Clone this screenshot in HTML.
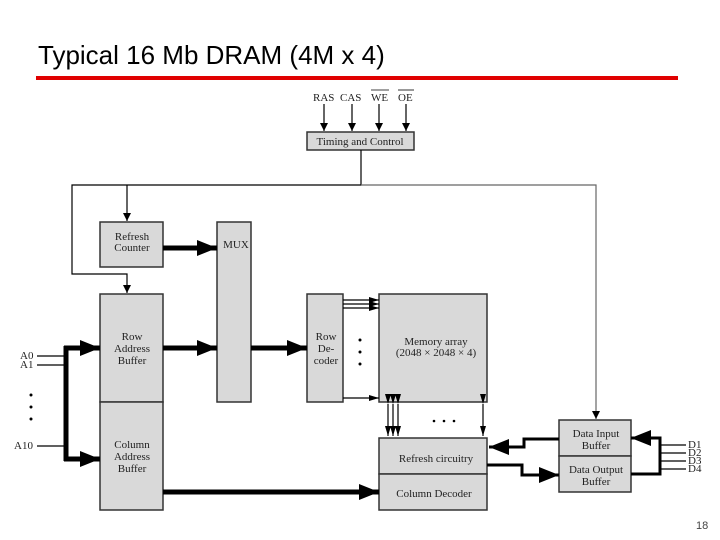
<!DOCTYPE html>
<html><head><style>
body{margin:0;background:#fff;width:720px;height:540px;overflow:hidden;position:relative;font-family:"Liberation Sans",sans-serif}
.t{position:absolute;left:38px;top:40px;font-size:26px;color:#000}
.r{position:absolute;left:36px;top:76px;width:642px;height:4px;background:#e00000}
.p{position:absolute;left:696px;top:520px;font-size:11px;color:#444}
svg text{font-family:"Liberation Serif",serif;font-size:11px;fill:#222}
</style></head><body>
<div class="t">Typical 16 Mb DRAM (4M x 4)</div>
<div class="r"></div>
<div class="p">18</div>
<svg width="720" height="540" style="position:absolute;left:0;top:0">
<defs>
<marker id="a" markerWidth="8" markerHeight="8" refX="8" refY="4" orient="auto" markerUnits="userSpaceOnUse"><path d="M0,0L8,4L0,8z" fill="#000"/></marker>
<marker id="b" markerWidth="10" markerHeight="6" refX="10" refY="3" orient="auto" markerUnits="userSpaceOnUse"><path d="M0,0L10,3L0,6z" fill="#000"/></marker>
<marker id="big" markerWidth="20" markerHeight="16" refX="20" refY="8" orient="auto" markerUnits="userSpaceOnUse"><path d="M0,0L20,8L0,16z" fill="#000"/></marker>
</defs>
<g fill="#d9d9d9" stroke="#333" stroke-width="1.5">
<rect x="307" y="132" width="107" height="18"/>
<rect x="100" y="222" width="63" height="45"/>
<rect x="217" y="222" width="34" height="180"/>
<rect x="100" y="294" width="63" height="108"/>
<rect x="100" y="402" width="63" height="108"/>
<rect x="307" y="294" width="36" height="108"/>
<rect x="379" y="294" width="108" height="108"/>
<rect x="379" y="438" width="108" height="36"/>
<rect x="379" y="474" width="108" height="36"/>
<rect x="559" y="420" width="72" height="36"/>
<rect x="559" y="456" width="72" height="36"/>
</g>
<g stroke="#000" stroke-width="1.2" fill="none">
<line x1="324" y1="104" x2="324" y2="131" marker-end="url(#a)"/>
<line x1="352" y1="104" x2="352" y2="131" marker-end="url(#a)"/>
<line x1="379" y1="104" x2="379" y2="131" marker-end="url(#a)"/>
<line x1="406" y1="104" x2="406" y2="131" marker-end="url(#a)"/>
<polyline points="361,150 361,185 72,185 72,274 127,274 127,293" marker-end="url(#a)"/>
<line x1="127" y1="185" x2="127" y2="221" marker-end="url(#a)"/>
<polyline points="361,185 596,185 596,419" stroke="#666" marker-end="url(#a)"/>
<line x1="37" y1="356" x2="64" y2="356"/>
<line x1="37" y1="365" x2="64" y2="365"/>
<line x1="37" y1="446" x2="64" y2="446"/>
<line x1="343" y1="300" x2="379" y2="300" marker-end="url(#b)"/>
<line x1="343" y1="304" x2="379" y2="304" marker-end="url(#b)"/>
<line x1="343" y1="308" x2="379" y2="308" marker-end="url(#b)"/>
<line x1="343" y1="398" x2="379" y2="398" marker-end="url(#b)"/>
<line x1="388" y1="404" x2="388" y2="436" marker-start="url(#b)" marker-end="url(#b)"/>
<line x1="393" y1="404" x2="393" y2="436" marker-start="url(#b)" marker-end="url(#b)"/>
<line x1="398" y1="404" x2="398" y2="436" marker-start="url(#b)" marker-end="url(#b)"/>
<line x1="483" y1="404" x2="483" y2="436" marker-start="url(#b)" marker-end="url(#b)"/>
<line x1="660" y1="445" x2="686" y2="445"/>
<line x1="660" y1="453" x2="686" y2="453"/>
<line x1="660" y1="461" x2="686" y2="461"/>
<line x1="660" y1="469" x2="686" y2="469"/>
</g>
<g stroke="#000" stroke-width="5" fill="none">
<line x1="163" y1="248" x2="217" y2="248" marker-end="url(#big)"/>
<line x1="163" y1="348" x2="217" y2="348" marker-end="url(#big)"/>
<line x1="251" y1="348" x2="307" y2="348" marker-end="url(#big)"/>
<line x1="163" y1="492" x2="379" y2="492" marker-end="url(#big)"/>
<polyline points="100,348 66,348 66,459 100,459" stroke="none"/>
<line x1="66" y1="346" x2="66" y2="461"/>
<line x1="64" y1="348" x2="100" y2="348" marker-end="url(#big)"/>
<line x1="64" y1="459" x2="100" y2="459" marker-end="url(#big)"/>
<polyline points="559,439 524,439 524,447 489,447" stroke-width="3" marker-end="url(#big)"/>
<polyline points="487,465 522,465 522,475 559,475" stroke-width="3" marker-end="url(#big)"/>
<polyline points="631,474 660,474 660,438 631,438" stroke-width="3" marker-end="url(#big)"/>
</g>
<g fill="#000">
<circle cx="31" cy="395" r="1.5"/><circle cx="31" cy="407" r="1.5"/><circle cx="31" cy="419" r="1.5"/>
<circle cx="360" cy="340" r="1.5"/><circle cx="360" cy="352" r="1.5"/><circle cx="360" cy="364" r="1.5"/>
<circle cx="434" cy="421" r="1.3"/><circle cx="444" cy="421" r="1.3"/><circle cx="454" cy="421" r="1.3"/>
</g>
<text x="313" y="101">RAS</text><text x="340" y="101">CAS</text>
<text x="371" y="101">WE</text><text x="398" y="101">OE</text>
<line x1="371" y1="90" x2="389" y2="90" stroke="#000" stroke-width="0.8"/>
<line x1="398" y1="90" x2="414" y2="90" stroke="#000" stroke-width="0.8"/>
<g text-anchor="middle">
<text x="360" y="145">Timing and Control</text>
<text x="132" y="240">Refresh</text><text x="132" y="251">Counter</text>
<text x="236" y="248">MUX</text>
<text x="132" y="340">Row</text><text x="132" y="352">Address</text><text x="132" y="364">Buffer</text>
<text x="132" y="448">Column</text><text x="132" y="460">Address</text><text x="132" y="472">Buffer</text>
<text x="326" y="340">Row</text><text x="326" y="352">De-</text><text x="326" y="364">coder</text>
<text x="436" y="345">Memory array</text><text x="436" y="356">(2048 × 2048 × 4)</text>
<text x="436" y="462">Refresh circuitry</text>
<text x="434" y="497">Column Decoder</text>
<text x="596" y="437">Data Input</text><text x="596" y="449">Buffer</text>
<text x="596" y="473">Data Output</text><text x="596" y="485">Buffer</text>
</g>
<text x="20" y="359">A0</text><text x="20" y="368">A1</text><text x="14" y="449">A10</text>
<text x="688" y="448">D1</text><text x="688" y="456">D2</text><text x="688" y="464">D3</text><text x="688" y="472">D4</text>
</svg>
</body></html>
